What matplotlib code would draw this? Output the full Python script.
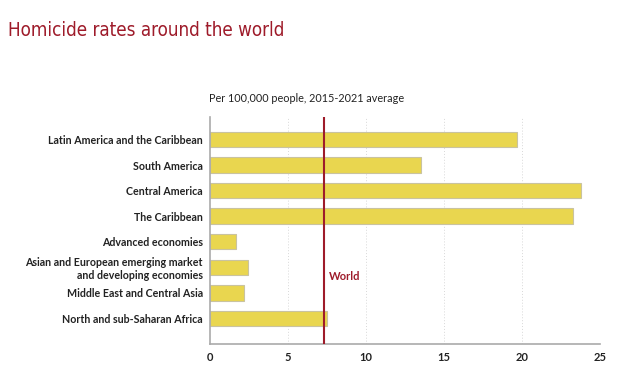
import matplotlib
matplotlib.use("Agg")
from matplotlib import pyplot as plt

# data
regions = [
  "Latin America and the Caribbean",
  "South America",
  "Central America",
  "The Caribbean",
  "Advanced economies",
  "Asian and European emerging market\nand developing economies",
  "Middle East and Central Asia",
  "North and sub-Saharan Africa",
]
rates = [19.7, 13.5, 23.8, 23.3, 1.67, 2.46, 2.16, 7.48]
world_rate = 7.3
x_ticks = [0, 5, 10, 15, 20, 25]

title = "Homicide rates around the world"
subtitle = "Per 100,000 people, 2015-2021 average"

RED = "#9E1B2A"
BAR = "#E9D64F"
TEXT = "#222222"

plt.rcParams['font.family'] = ['Lato', 'DejaVu Sans']

fig = plt.figure(figsize=(6.23, 3.76), dpi=100)
ax = fig.add_axes([210 / 623, 1 - 344 / 376, 390 / 623, (344 - 116.7) / 376])

ypos = list(range(len(regions)))
ax.barh(ypos, rates, height=0.6, color=BAR, edgecolor="#C9C3A0", linewidth=0.8, zorder=2)
ax.axvline(world_rate, color=RED, linewidth=1.5, zorder=3)
ax.text(world_rate + 0.35, 5.36, "World", color=RED, fontsize=8, fontweight="bold",
        va="center", ha="left")

ax.set_xlim(0, 25)
ax.set_ylim(len(regions) - 1 + 1.0, -0.89)
ax.set_xticks(x_ticks)
ax.set_xticklabels([str(t) for t in x_ticks], fontsize=8, fontweight="bold", color=TEXT)
ax.set_yticks(ypos)
ax.set_yticklabels(regions, fontsize=7.7, fontweight="bold", color=TEXT, linespacing=1.15)
ax.tick_params(length=0, pad=6)
ax.tick_params(axis="y", pad=5)

for x in x_ticks[1:]:
  ax.axvline(x, color="#D8D8D8", linewidth=0.7, linestyle=(0, (1, 2)), zorder=1)

for side in ["top", "right"]:
  ax.spines[side].set_visible(False)
for side in ["left", "bottom"]:
  ax.spines[side].set_color("#AAAAAA")
  ax.spines[side].set_linewidth(1.2)

fig.text(8 / 623, 1 - 30 / 376, title, color=RED, fontsize=13.5, fontstretch="condensed",
         family=['DejaVu Sans'], va="center", ha="left")
fig.text(209 / 623, 1 - 98 / 376, subtitle, color=TEXT, fontsize=7.8, va="center", ha="left")

fig.savefig("out.png", dpi=100)
